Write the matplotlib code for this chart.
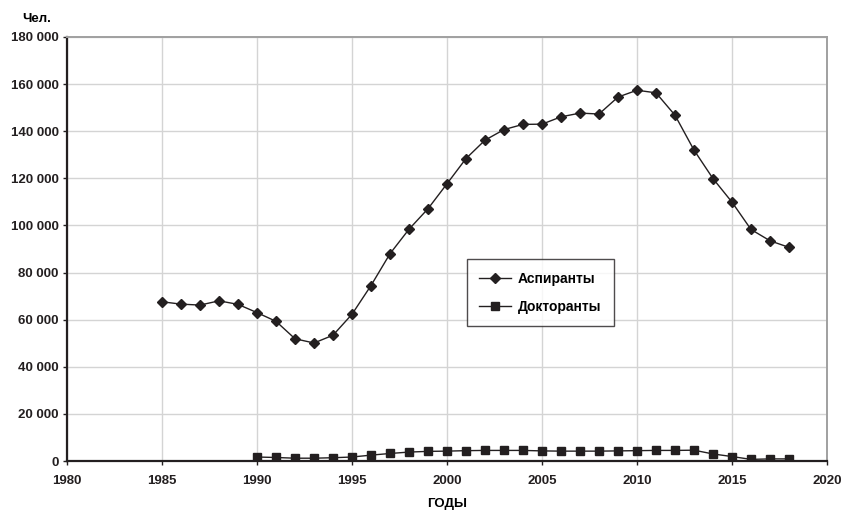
import matplotlib
matplotlib.use('Agg')
import matplotlib.pyplot as plt
from matplotlib.ticker import FuncFormatter

plt.rcParams['font.family'] = ['Liberation Sans', 'DejaVu Sans']
plt.rcParams['font.weight'] = 'bold'

# Data
years_asp = list(range(1985, 2019))
aspiranty = [67600, 66600, 66200, 68000, 66500, 63000, 59300, 51900, 50100, 53400,
             62300, 74500, 88000, 98400, 107100, 117700, 128400, 136200, 140700, 142900,
             143000, 146100, 147700, 147300, 154500, 157400, 156300, 146800, 132000, 119900,
             109900, 98300, 93500, 90700]

years_doc = list(range(1990, 2019))
doktoranty = [1700, 1500, 1200, 1200, 1400, 1700, 2500, 3200, 3800, 4100,
              4200, 4400, 4500, 4500, 4500, 4300, 4200, 4200, 4200, 4300,
              4400, 4500, 4500, 4600, 3000, 1900, 700, 900, 900]

fig = plt.figure(figsize=(8.43, 5.11), dpi=100)
ax = fig.add_axes([0.0795, 0.0978, 0.9015, 0.8298])

ax.plot(years_asp, aspiranty, color='#231f20', lw=1.0, marker='D', markersize=5.5,
        label='Аспиранты')
ax.plot(years_doc, doktoranty, color='#231f20', lw=1.0, marker='s', markersize=6,
        label='Докторанты')

ax.set_xlim(1980, 2020)
ax.set_ylim(0, 180000)
ax.set_xticks(range(1980, 2021, 5))
ax.set_yticks(range(0, 180001, 20000))
ax.yaxis.set_major_formatter(FuncFormatter(lambda v, p: f'{int(v):,}'.replace(',', ' ')))

ax.grid(True, color='#d4d4d4', lw=1.0)
ax.set_axisbelow(True)

# Coloring
ax.spines['left'].set_color('#231f20')
ax.spines['left'].set_linewidth(1.6)
ax.spines['bottom'].set_color('#231f20')
ax.spines['bottom'].set_linewidth(1.6)
ax.spines['top'].set_color('#a0a0a0')
ax.spines['top'].set_linewidth(1.4)
ax.spines['right'].set_color('#a0a0a0')
ax.spines['right'].set_linewidth(1.4)
ax.tick_params(axis='both', labelsize=9.5, colors='#231f20', length=3, width=1)
ax.tick_params(axis='x', pad=7)
ax.tick_params(axis='y', pad=3)

# Labels
ax.set_xlabel('ГОДЫ', fontsize=9.5, fontweight='bold', labelpad=8)
fig.text(0.026, 0.962, 'Чел.', fontsize=9.5, fontweight='bold', ha='left', va='center')

leg = ax.legend(loc='upper left', bbox_to_anchor=(0.526, 0.476), borderaxespad=0,
                fontsize=10, frameon=True, fancybox=False, edgecolor='#231f20',
                borderpad=0.9, labelspacing=1.0, handlelength=2.3, handletextpad=0.5,
                markerscale=0.85)
leg.get_frame().set_linewidth(1.0)

fig.savefig('out.png', dpi=100, facecolor='white')
